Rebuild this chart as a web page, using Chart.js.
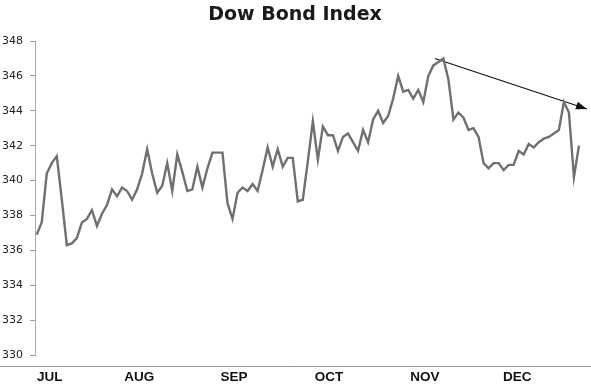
<!DOCTYPE html>
<html>
<head>
<meta charset="utf-8">
<script src="https://cdn.jsdelivr.net/npm/chart.js@4.4.1/dist/chart.umd.min.js"></script>
<style>
  html, body { margin: 0; padding: 0; background: #fff; }
  #wrap { width: 591px; height: 385px; position: relative; }
</style>
</head>
<body>
<div id="wrap"><canvas id="c"></canvas></div>
<script>
// daily closes, Jul - Dec
const closes = [
  336.9, 337.6, 340.4, 341.0, 341.4, 338.9, 336.3, 336.4, 336.7, 337.6,
  337.8, 338.3, 337.4, 338.1, 338.6, 339.5, 339.1, 339.6, 339.4, 338.9,
  339.5, 340.4, 341.8, 340.4, 339.3, 339.7, 341.0, 339.4, 341.5, 340.5,
  339.4, 339.5, 340.8, 339.6, 340.7, 341.6, 341.6, 341.6, 338.7, 337.8,
  339.3, 339.6, 339.4, 339.8, 339.4, 340.6, 341.9, 340.8, 341.8, 340.8,
  341.3, 341.3, 338.8, 338.9, 341.1, 343.4, 341.2, 343.1, 342.6, 342.6,
  341.7, 342.5, 342.7, 342.2, 341.7, 342.9, 342.2, 343.5, 344.0, 343.3,
  343.7, 344.7, 346.0, 345.1, 345.2, 344.7, 345.2, 344.5, 346.0, 346.6,
  346.8, 347.0, 345.8, 343.5, 343.9, 343.6, 342.9, 343.0, 342.5, 341.0,
  340.7, 341.0, 341.0, 340.6, 340.9, 340.9, 341.7, 341.5, 342.1, 341.9,
  342.2, 342.4, 342.5, 342.7, 342.9, 344.5, 343.9, 340.2, 342.0
];
const days = closes.map((_, i) => i);

// month labels and where they sit (in trading-day units)
const months = ['JUL', 'AUG', 'SEP', 'OCT', 'NOV', 'DEC'];
const monthPos = [2.6, 20.4, 39.3, 58.2, 77.3, 95.7];

// hand drawn trend line
const trendX = [79.3, 109.6];
const trendY = [347.0, 344.1];

const yTicks = [330, 332, 334, 336, 338, 340, 342, 344, 346, 348];

const extras = {
  id: 'extras',
  afterDraw(chart) {
    const ctx = chart.ctx;
    const { x, y } = chart.scales;
    ctx.save();
    // title
    ctx.fillStyle = '#1a1a1a';
    ctx.font = 'bold 19px "DejaVu Sans"';
    ctx.textAlign = 'center';
    ctx.textBaseline = 'middle';
    ctx.fillText('Dow Bond Index', 295, 15);
    // base line across the page
    ctx.strokeStyle = '#9a9a9a';
    ctx.lineWidth = 1;
    ctx.beginPath();
    ctx.moveTo(0, 366.5);
    ctx.lineTo(591, 366.5);
    ctx.stroke();
    // arrow head on trend line
    const x0 = x.getPixelForValue(trendX[0]), y0 = y.getPixelForValue(trendY[0]);
    const x1 = x.getPixelForValue(trendX[1]), y1 = y.getPixelForValue(trendY[1]);
    const a = Math.atan2(y1 - y0, x1 - x0);
    ctx.fillStyle = '#111';
    ctx.beginPath();
    ctx.moveTo(x1, y1);
    ctx.lineTo(x1 - 11 * Math.cos(a) + 4 * Math.sin(a), y1 - 11 * Math.sin(a) - 4 * Math.cos(a));
    ctx.lineTo(x1 - 11 * Math.cos(a) - 4 * Math.sin(a), y1 - 11 * Math.sin(a) + 4 * Math.cos(a));
    ctx.closePath();
    ctx.fill();
    ctx.restore();
  }
};

new Chart(document.getElementById('c'), {
  type: 'line',
  data: {
    datasets: [
      {
        data: days.map((d, i) => ({ x: d, y: closes[i] })),
        borderColor: '#707070', borderWidth: 2.4,
        pointRadius: 0, tension: 0
      },
      {
        data: trendX.map((d, i) => ({ x: d, y: trendY[i] })),
        borderColor: '#111', borderWidth: 1.2,
        pointRadius: 0, tension: 0
      }
    ]
  },
  options: {
    responsive: true, maintainAspectRatio: false, animation: false,
    layout: { padding: { top: 41, left: 0, right: 0, bottom: 0 } },
    plugins: { legend: { display: false }, title: { display: false }, tooltip: { enabled: false } },
    scales: {
      x: {
        type: 'linear', min: -0.34, max: 110.4,
        afterFit: s => { s.height = 30; },
        afterBuildTicks: s => { s.ticks = monthPos.map(v => ({ value: v })); },
        grid: { display: false, drawTicks: false },
        border: { display: false },
        ticks: {
          autoSkip: false, maxRotation: 0, padding: 14,
          color: '#111',
          font: { family: '"Liberation Sans"', size: 13.5, weight: 'bold' },
          callback: (v, i) => months[i]
        }
      },
      y: {
        min: 330, max: 348,
        afterFit: s => { s.width = 35; },
        afterBuildTicks: s => { s.ticks = yTicks.map(v => ({ value: v })); },
        grid: { drawOnChartArea: false, drawTicks: true, tickLength: 5, color: '#999' },
        border: { color: '#aaa', dash: [3, 2] },
        ticks: {
          padding: 7, color: '#222',
          font: { family: '"DejaVu Sans"', size: 11 }
        }
      }
    }
  },
  plugins: [extras]
});
</script>
</body>
</html>
